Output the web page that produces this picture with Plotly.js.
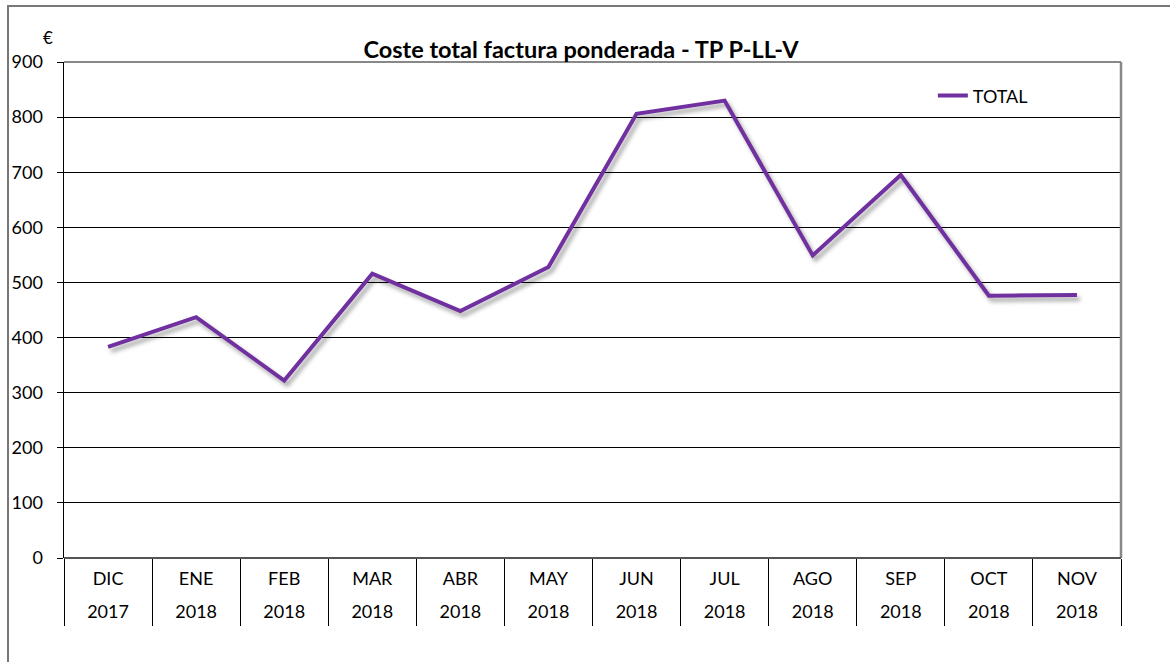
<!DOCTYPE html>
<html>
<head>
<meta charset="utf-8">
<script src="https://cdn.plot.ly/plotly-3.0.1.min.js"></script>
<style>
  html, body { margin: 0; padding: 0; background: #fff; }
  #wrap { position: relative; width: 1170px; height: 662px; }
  #frame { position: absolute; left: 7px; top: 5px; width: 1170px; height: 700px;
           border-top: 2px solid #777; border-left: 2px solid #777; pointer-events: none; }
  #chart { position: absolute; left: 0; top: 0; width: 1170px; height: 662px; }
  #chart .scatterlayer .trace:first-child path.js-line { filter: drop-shadow(3px 4px 2px rgba(0,0,0,0.35)); }
</style>
</head>
<body>
<div id="wrap">
  <div id="chart"></div>
  <div id="frame"></div>
</div>
<script>
const months = ["DIC", "ENE", "FEB", "MAR", "ABR", "MAY", "JUN", "JUL", "AGO", "SEP", "OCT", "NOV"];
const years = ["2017", "2018", "2018", "2018", "2018", "2018", "2018", "2018", "2018", "2018", "2018", "2018"];
const totalValues = [383, 437, 322, 516, 448, 528, 806, 830, 549, 695, 476, 477];
const yTicks = [0, 100, 200, 300, 400, 500, 600, 700, 800, 900];

const FONT = "Lato, 'Open Sans', sans-serif";
const idx = months.map((m, i) => i);

const hidden = { color: "rgba(0,0,0,0)", width: 0 };
const traces = [
  {
    type: "scatter", mode: "lines", name: "TOTAL",
    x: idx, y: totalValues,
    line: { color: "#7030A0", width: 4 },
    hoverinfo: "skip"
  },
  { type: "scatter", mode: "lines", x: idx, y: totalValues, xaxis: "x2",
    line: hidden, showlegend: false, hoverinfo: "skip" },
  { type: "scatter", mode: "lines", x: idx, y: totalValues, xaxis: "x3",
    line: hidden, showlegend: false, hoverinfo: "skip" }
];

const labelAxis = (texts, standoff) => ({
  overlaying: "x", anchor: "y", side: "bottom",
  type: "linear", range: [-0.5, 11.5],
  tickmode: "array", tickvals: idx, ticktext: texts,
  ticks: "", showgrid: false, zeroline: false, showline: false,
  tickfont: { family: FONT, size: 18, color: "#000" },
  ticklabelstandoff: standoff, fixedrange: true
});

const layout = {
  width: 1170, height: 662,
  margin: { l: 64, r: 49, t: 62, b: 104 },
  paper_bgcolor: "#fff", plot_bgcolor: "#fff",
  font: { family: FONT, size: 18, color: "#000" },
  title: {
    text: "<b>Coste total factura ponderada - TP P-LL-V</b>",
    font: { family: FONT, size: 23.5, color: "#000" },
    x: 0.4966, xref: "container", xanchor: "center",
    y: 1 - 50 / 662, yref: "container", yanchor: "middle"
  },
  xaxis: {
    type: "linear", range: [-0.5, 11.5],
    tickmode: "array",
    tickvals: idx.map(i => i - 0.5).concat([11.5]),
    ticktext: idx.map(() => "").concat([""]),
    ticks: "outside", ticklen: 67, tickwidth: 1, tickcolor: "#000",
    showgrid: false, zeroline: false, showline: false,
    fixedrange: true
  },
  xaxis2: labelAxis(months, 8),
  xaxis3: labelAxis(years, 41),
  yaxis: {
    range: [0, 900], tickmode: "array", tickvals: yTicks,
    ticks: "outside", ticklen: 6, tickcolor: "#000", tickwidth: 1,
    showgrid: true, gridcolor: "#000", gridwidth: 1,
    zeroline: false, showline: true, linecolor: "#000", linewidth: 1.5,
    tickfont: { family: FONT, size: 18, color: "#000" },
    ticklabelstandoff: 10,
    fixedrange: true
  },
  showlegend: true,
  legend: {
    x: 0.822, y: 0.969, xanchor: "left", yanchor: "top",
    bgcolor: "rgba(0,0,0,0)", font: { family: FONT, size: 18, color: "#000" }
  },
  shapes: [
    { type: "line", xref: "paper", yref: "paper", x0: 0, x1: 1, y0: 1, y1: 1,
      line: { color: "#888", width: 2 } },
    { type: "line", xref: "paper", yref: "paper", x0: 1, x1: 1, y0: 0, y1: 1,
      line: { color: "#888", width: 2.5 } },
    { type: "line", xref: "paper", yref: "paper", x0: 0, x1: 1, y0: 0, y1: 0,
      line: { color: "#555", width: 2 } }
  ],
  annotations: [
    { text: "€", xref: "paper", yref: "paper", x: -0.015, y: 1.024,
      xanchor: "center", yanchor: "bottom", showarrow: false,
      font: { family: FONT, size: 17, color: "#000" } }
  ]
};

Plotly.newPlot("chart", traces, layout, { staticPlot: true, displayModeBar: false });
</script>
</body>
</html>
